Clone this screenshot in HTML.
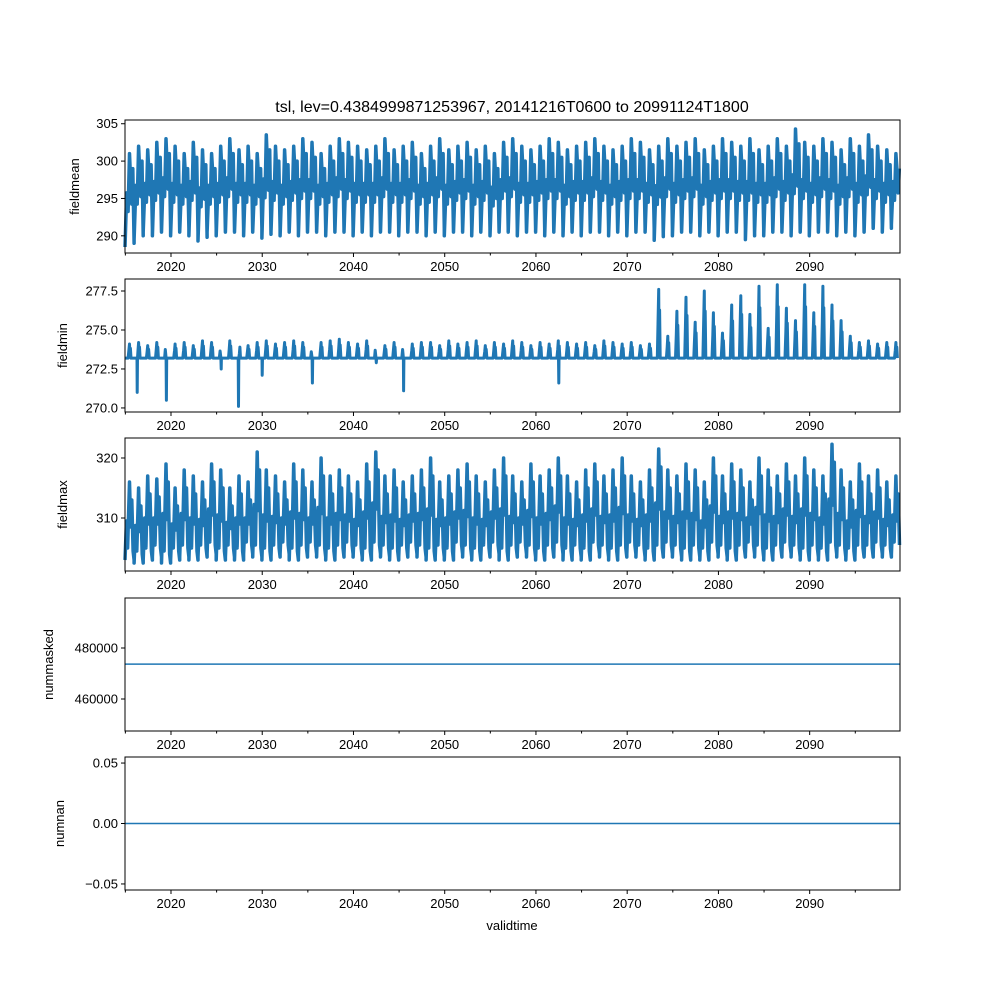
<!DOCTYPE html>
<html><head><meta charset="utf-8"><style>
body{margin:0;background:#fff}
svg{display:block;font-family:"Liberation Sans","DejaVu Sans",sans-serif}
</style></head><body>
<svg id="fig" width="1000" height="1000" viewBox="0 0 1000 1000">
<rect width="1000" height="1000" fill="#fff"/>
<text x="512" y="112" font-size="16" text-anchor="middle">tsl, lev=0.4384999871253967, 20141216T0600 to 20991124T1800</text>
<text x="512" y="930" font-size="13" text-anchor="middle">validtime</text>
</svg>
<script>
const yearStart=2014.96, yearEnd=2099.9;
const xTicks=[2020,2030,2040,2050,2060,2070,2080,2090];
const xMinorTicks=[2015,2025,2035,2045,2055,2065,2075,2085,2095];
const meanPeak=[301,302,301.5,302.5,303,302,301,302.5,301.5,301,302,303,301.5,302,301,303.5,302,301.5,302,303,302.5,301,302,303,302.5,302,301.5,302,303,301.5,302,302.5,301,302,303,301.5,302,302.5,301.5,302,301,302.5,303,302,301.5,302,303,302.5,301.5,302,302.5,303,302,301.5,302,303,302.5,301.5,302,303,302,302.5,303,301.5,302,303,302.5,302,303,301.5,302,303,302,304.3,302.5,302,303,302.5,301.5,303,302,303.5,302,301.5,301];
const meanTrough=[288.5,289.5,290.5,290,290.5,290,290.5,290,289.3,290.5,290,290.5,290.5,290,290.5,289.7,290.5,290,290.5,290,290.5,290.5,290,290.5,290.5,290,290.5,290,290.5,290.5,290,290.5,290.5,290,290.5,290,290.5,290.5,290,290.5,290,290.5,290.5,290,290.5,290.5,290,290.5,290,290.5,290,290.5,290.5,290,290.5,290,290.5,290.5,289.4,290.5,290,290.5,290.5,290,290.5,290,290.5,290.5,289.5,290.5,290,290.5,290.5,290,290.5,290,290.5,290.5,290,290.5,290,290.5,291,290.5,291.5];
const minBase=273.2;
const minPeak=[274.1,274.2,274.0,274.2,274.3,274.1,274.2,274.0,274.3,274.2,274.1,274.3,274.2,274.0,274.2,274.3,274.1,274.2,274.3,274.2,274.0,274.2,274.3,274.4,274.2,274.1,274.3,274.2,274.0,274.2,274.3,274.1,274.2,274.2,274.0,274.3,274.1,274.2,274.3,274.0,274.2,274.1,274.3,274.2,274.0,274.2,274.1,274.3,274.2,274.1,274.2,274.0,274.3,274.2,274.1,274.2,274.0,274.1,277.6,274.6,276.2,277.1,275.5,277.5,276.1,274.8,276.6,277.2,276.0,277.8,275.1,277.9,276.4,275.6,277.9,276.1,277.8,276.6,275.6,274.6,274.2,274.3,274.1,274.2,274.2];
const minDipYear=[2016.3,2019.5,2025.5,2027.4,2030.0,2035.5,2042.5,2045.5,2062.5];
const minDipValue=[271.0,270.5,272.5,270.1,272.1,271.6,272.9,271.1,271.6];
const maxPeak=[316,315,317,316.5,319,315,318,317,316,319,318,315,317,316,321,318,317,316,319,318,316,320,317,318,317,316,319,321,317,318,316,317,318,320,316,317,318,319,317,316,318,320,317,316,319,317,318,320,317,316,318,319,317,318,320,317,316,318,321.5,318,317,319,318,316,320,317,319,318,316,320,318,317,319,317,320,318,317,322.3,318,316,319,317,318,316,317];
const maxTrough=[303,302.5,303,303.5,302.5,303,303.5,303,303.5,304,303,303.5,303,304,303.5,303,303.5,304,303,303.5,304,303.5,303,303.5,304,303.5,303,304,303.5,303,303.5,304,303.5,303,303.5,303,304,303.5,303,303.5,304,303,303.5,304,303.5,303,303.5,304,303,303.5,303,304,303.5,303,303.5,304,303.5,303,303.5,304,303.5,303,303.5,303,304,303.5,303,303.5,304,303.5,303,303.5,304,303.5,303,303.5,303,304,303.5,303,303.5,303.5,304,303.5,304];
const numMaskedValue=473700;
const numNanValue=0;

const L=125,R=900;
const panels=[
 {name:'fieldmean',top:120,bot:253,ymin:287.7,ymax:305.5,ticks:[290,295,300,305],fmt:v=>String(v)},
 {name:'fieldmin',top:279,bot:412,ymin:269.74,ymax:278.27,ticks:[270,272.5,275,277.5],fmt:v=>v.toFixed(1)},
 {name:'fieldmax',top:438,bot:571,ymin:301.17,ymax:323.33,ticks:[310,320],fmt:v=>String(v)},
 {name:'nummasked',top:598,bot:731,ymin:447450,ymax:499600,ticks:[460000,480000],fmt:v=>String(v)},
 {name:'numnan',top:757,bot:890,ymin:-0.055,ymax:0.055,ticks:[-0.05,0,0.05],fmt:v=>v.toFixed(2).replace('-','−')}
];
const NS='http://www.w3.org/2000/svg';
const svg=document.getElementById('fig');
function el(t,a,p){const e=document.createElementNS(NS,t);for(const k in a)e.setAttribute(k,a[k]);(p||svg).appendChild(e);return e;}
const xs=t=>L+(t-yearStart)/(yearEnd-yearStart)*(R-L);

function seriesPoints(p){
 let pts=[];
 const add=(t,v)=>{if(t>=yearStart&&t<=yearEnd)pts.push([t,v]);};
 if(p.name==='fieldmean'){
  meanPeak.forEach((pk,i)=>{const y=2015+i,tr=meanTrough[i],mid=(pk+tr)/2;
   add(y-0.04,tr);add(y+0.15,mid+1);add(y+0.3,mid-1.5);add(y+0.45,pk);add(y+0.6,mid+2);add(y+0.7,mid-0.5);add(y+0.82,pk-2);add(y+0.96,tr+0.5);});
 } else if(p.name==='fieldmin'){
  minPeak.forEach((pk,i)=>{const y=2015+i;
   add(y,minBase);add(y+0.3,minBase);add(y+0.38,(pk+minBase)/2);add(y+0.45,pk);add(y+0.5,minBase+0.3);add(y+0.55,pk-0.3*(pk-minBase));add(y+0.62,minBase);add(y+0.99,minBase);});
  minDipYear.forEach((d,j)=>{
   pts=pts.filter(q=>Math.abs(q[0]-d)>0.05);
   add(d-0.03,minBase);add(d,minDipValue[j]);add(d+0.03,minBase);});
  pts.sort((a,b)=>a[0]-b[0]);
 } else if(p.name==='fieldmax'){
  maxPeak.forEach((pk,i)=>{const y=2015+i,tr=maxTrough[i],mid=(pk+tr)/2;
   add(y-0.04,tr);add(y+0.12,mid);add(y+0.25,tr+2);add(y+0.45,pk);add(y+0.58,mid-1);add(y+0.7,pk-3);add(y+0.85,tr+1.5);add(y+0.96,tr);});
 } else if(p.name==='nummasked'){add(yearStart,numMaskedValue);add(yearEnd,numMaskedValue);}
 else {add(yearStart,numNanValue);add(yearEnd,numNanValue);}
 return pts;
}

panels.forEach(p=>{
 const ys=v=>p.bot-(v-p.ymin)/(p.ymax-p.ymin)*(p.bot-p.top);
 const g=el('g',{});
 
 
 const pts=seriesPoints(p);
 const d=pts.map((q,i)=>(i?'L':'M')+xs(q[0]).toFixed(1)+' '+ys(q[1]).toFixed(1)).join(' ');
 const dense=(p.name==='fieldmean'||p.name==='fieldmax');
 const sw=dense?3.5:(p.name==='fieldmin'?3:1.5);
 const line=el('path',{d:d,fill:'none',stroke:'#1f77b4','stroke-width':sw,'stroke-linejoin':'round'},g);
 
 
 const fr=el('rect',{x:L,y:p.top,width:R-L,height:p.bot-p.top,fill:'none',stroke:'#000','stroke-width':1},g);
 
 
 xTicks.forEach(t=>{const x=xs(t);
  el('line',{x1:x,x2:x,y1:p.bot,y2:p.bot+4,stroke:'#000'},g);
  const tx=el('text',{x:x,y:p.bot+18,'font-size':13,'text-anchor':'middle'},g);tx.textContent=t;
  
  });
 xMinorTicks.forEach(t=>{const x=xs(t);el('line',{x1:x,x2:x,y1:p.bot,y2:p.bot+2.5,stroke:'#000'},g);});
 p.ticks.forEach(v=>{const y=ys(v);
  el('line',{x1:L-4,x2:L,y1:y,y2:y,stroke:'#000'},g);
  const tx=el('text',{x:L-7,y:y+4.5,'font-size':13,'text-anchor':'end'},g);tx.textContent=p.fmt(v);
  
  });
 const cy=(p.top+p.bot)/2;
 const lx=p.name==='nummasked'?53:p.name==='numnan'?64:p.name==='fieldmean'?79:67;
 const yl=el('text',{x:lx,y:cy,'font-size':13,'text-anchor':'middle',transform:`rotate(-90 ${lx} ${cy})`},g);
 yl.textContent=p.name;
 
 
});
</script>
</body></html>
